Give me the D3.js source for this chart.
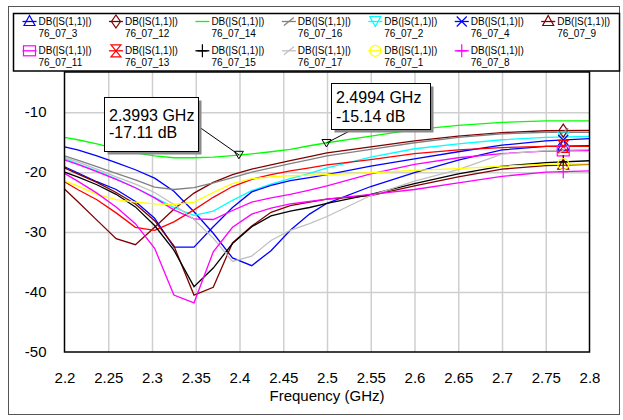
<!DOCTYPE html>
<meta charset="utf-8" />
<style>
  body {
    margin: 0;
    background: #fff;
    font-family: Arial, "Liberation Sans", sans-serif;
  }
  .grid line {
    stroke: #cfcfcf;
    stroke-width: 1.5;
  }
  .grid .domain,
  .axis .domain {
    display: none;
  }
  .axis text {
    font-size: 15px;
    fill: #000;
    font-family: Arial, "Liberation Sans", sans-serif;
  }
</style>
<body>
  <div class="container"></div>

  <script src="https://d3js.org/d3.v7.min.js"></script>
  <script>
    // frequency points (GHz) shared by every trace
    const freq = [2.2, 2.215, 2.237, 2.259, 2.281, 2.303, 2.325, 2.348, 2.37, 2.392, 2.414,
      2.436, 2.458, 2.48, 2.5, 2.55, 2.6, 2.65, 2.7, 2.75, 2.8];

    // dB(|S11|) per trace
    const s76_07_3 = [-15.8, -16.3, -17.3, -18.4, -19.6, -21.0, -23.2, -26.6, -30.2, -34.3, -35.6,
      -33.1, -29.7, -27.0, -25.2, -22.4, -20.1, -18.0, -16.3, -15.7, -15.6];
    const s76_07_12 = [-22.8, -24.9, -28.0, -31.1, -32.1, -29.2, -26.2, -23.5, -21.7, -20.4, -19.5,
      -18.8, -18.1, -17.4, -16.8, -15.8, -14.8, -14.0, -13.4, -13.1, -13.05];
    const s76_07_14 = [-14.2, -14.6, -15.3, -16.1, -16.8, -17.3, -17.6, -17.6, -17.5, -17.25, -16.95,
      -16.6, -16.2, -15.6, -15.1, -14.0, -12.9, -12.2, -11.7, -11.45, -11.45];
    const s76_07_16 = [-17.3, -18.0, -19.1, -20.2, -21.3, -22.5, -22.9, -22.6, -21.8, -20.9, -20.0,
      -19.3, -18.6, -17.9, -17.3, -16.2, -15.1, -14.2, -13.6, -13.35, -13.35];
    const s76_07_2 = [-17.7, -18.6, -19.8, -21.1, -22.6, -24.2, -25.9, -27.2, -26.5, -24.7, -23.1,
      -22.0, -21.1, -20.2, -19.3, -17.5, -16.1, -15.3, -14.6, -14.2, -14.05];
    const s76_07_4 = [-19.1, -20.1, -21.6, -22.9, -24.9, -27.7, -32.5, -32.5, -29.1, -25.9, -23.3,
      -22.2, -21.4, -20.9, -20.4, -19.0, -17.8, -16.6, -15.5, -14.8, -14.4];
    const s76_07_9 = [-19.3, -20.3, -21.7, -23.4, -25.3, -28.1, -32.3, -40.5, -39.2, -31.8, -29.0,
      -26.7, -25.6, -25.0, -24.5, -23.9, -22.3, -20.8, -19.5, -18.9, -18.7];
    const s76_07_11 = [-17.95, -18.7, -19.9, -21.2, -22.6, -24.3, -26.3, -27.8, -27.9, -26.4, -25.0,
      -24.3, -23.7, -23.0, -22.3, -20.3, -18.7, -17.6, -16.9, -16.5, -16.4];
    const s76_07_13 = [-21.6, -22.9, -24.6, -26.8, -29.2, -29.7, -28.3, -26.3, -24.2, -22.4, -21.2,
      -20.4, -19.8, -19.3, -18.8, -17.9, -16.9, -16.3, -15.9, -15.7, -15.7];
    const s76_07_15 = [-20.0, -20.8, -22.1, -23.7, -25.8, -28.9, -33.0, -39.1, -36.0, -31.9, -29.1,
      -27.3, -26.5, -25.9, -25.2, -23.7, -21.9, -20.3, -19.0, -18.4, -18.1];
    const s76_07_17 = [-17.5, -18.3, -19.5, -20.8, -22.0, -23.4, -25.4, -27.9, -31.0, -34.9, -34.0,
      -31.4, -29.7, -28.6, -27.4, -23.9, -21.5, -19.6, -17.0, -16.4, -16.2];
    const s76_07_1 = [-21.45, -22.3, -23.7, -24.6, -25.0, -25.3, -25.4, -25.0, -23.4, -21.9, -21.1,
      -20.8, -20.6, -20.5, -20.4, -20.1, -19.7, -19.4, -19.0, -18.7, -18.6];
    const s76_07_8 = [-20.2, -21.5, -23.5, -25.8, -28.6, -32.7, -40.5, -41.8, -33.3, -29.2, -27.0,
      -26.0, -25.3, -24.9, -24.5, -23.7, -22.9, -21.8, -20.7, -20.0, -19.8];

    // legend order, names, colours and symbols
    const names = ["76_07_3", "76_07_12", "76_07_14", "76_07_16", "76_07_2", "76_07_4", "76_07_9",
      "76_07_11", "76_07_13", "76_07_15", "76_07_17", "76_07_1", "76_07_8"];
    const values = [s76_07_3, s76_07_12, s76_07_14, s76_07_16, s76_07_2, s76_07_4, s76_07_9,
      s76_07_11, s76_07_13, s76_07_15, s76_07_17, s76_07_1, s76_07_8];
    const colors = ["#0000ff", "#800000", "#00ff00", "#808080", "#00ffff", "#0000ff", "#800000",
      "#ff00ff", "#ff0000", "#000000", "#c0c0c0", "#ffff00", "#ff00ff"];
    const symbols = ["triUp", "diamond", "none", "slash", "triDown", "x", "triUp",
      "square", "hourglass", "plus", "slash", "circle", "plus"];
    const quantity = "DB(|S(1,1)|)";

    // axis ticks
    const xTicks = [2.2, 2.25, 2.3, 2.35, 2.4, 2.45, 2.5, 2.55, 2.6, 2.65, 2.7, 2.75, 2.8];
    const xTickLabels = ["2.2", "2.25", "2.3", "2.35", "2.4", "2.45", "2.5", "2.55", "2.6", "2.65", "2.7", "2.75", "2.8"];
    const yTicks = [-10, -20, -30, -40, -50];
    const yTickLabels = ["-10", "-20", "-30", "-40", "-50"];

    // marker readouts on the 76_07_14 trace
    const markerFreq = [2.3993, 2.4994];
    const markerDb = [-17.11, -15.14];
    const symbolFreq = 2.77;

    const W = 623, H = 420;
    const plot = { left: 64.5, right: 589.5, top: 72, bottom: 352 };

    const svg = d3
      .select(".container")
      .append("svg")
      .attr("width", W)
      .attr("height", H);

    const x = d3.scaleLinear().domain([2.2, 2.8]).range([plot.left, plot.right]);
    const y = d3.scaleLinear().domain([-50, -3.3]).range([plot.bottom, plot.top]);

    // outer frame
    svg.append("rect")
      .attr("x", 8.5).attr("y", 6.5)
      .attr("width", 611).attr("height", 408)
      .attr("fill", "#fff").attr("stroke", "#555").attr("stroke-width", 1);

    // plot background
    svg.append("rect")
      .attr("x", plot.left).attr("y", plot.top)
      .attr("width", plot.right - plot.left).attr("height", plot.bottom - plot.top)
      .attr("fill", "#fff");

    // grid
    svg.append("g")
      .attr("class", "grid")
      .attr("transform", "translate(0," + plot.bottom + ")")
      .call(d3.axisBottom(x).tickValues(xTicks.slice(1, -1)).tickSize(-(plot.bottom - plot.top)).tickFormat(""));
    svg.append("g")
      .attr("class", "grid")
      .attr("transform", "translate(" + plot.left + ",0)")
      .call(d3.axisLeft(y).tickValues(yTicks.slice(0, -1)).tickSize(-(plot.right - plot.left)).tickFormat(""));

    // axes labels
    svg.append("g")
      .attr("class", "axis")
      .attr("transform", "translate(0," + plot.bottom + ")")
      .call(d3.axisBottom(x).tickValues(xTicks).tickSize(0).tickPadding(20.5)
        .tickFormat((d, i) => xTickLabels[i]));
    svg.append("g")
      .attr("class", "axis")
      .attr("transform", "translate(" + plot.left + ",0)")
      .call(d3.axisLeft(y).tickValues(yTicks).tickSize(0).tickPadding(18)
        .tickFormat((d, i) => yTickLabels[i]));

    svg.append("text")
      .attr("x", (plot.left + plot.right) / 2)
      .attr("y", 401)
      .attr("text-anchor", "middle")
      .attr("font-size", "15px")
      .text("Frequency (GHz)");

    // traces
    const line = d3.line()
      .x((d, i) => x(freq[i]))
      .y((d) => y(d));

    const traces = svg.append("g").attr("fill", "none").attr("stroke-width", 1.3);
    values.forEach(function (vals, k) {
      traces.append("path")
        .attr("d", line(vals))
        .attr("stroke", colors[k]);
    });

    function drawSymbol(g, type, color, cx, cy) {
      const s = g.append("g")
        .attr("transform", "translate(" + cx + "," + cy + ")")
        .attr("fill", "none")
        .attr("stroke", color)
        .attr("stroke-width", 1.2);
      if (type === "triUp") s.append("path").attr("d", "M0,-6L5.5,4L-5.5,4Z");
      if (type === "triDown") s.append("path").attr("d", "M0,5L5.5,-5L-5.5,-5Z");
      if (type === "diamond") s.append("path").attr("d", "M0,-6.5L4.5,0L0,6.5L-4.5,0Z");
      if (type === "x") s.append("path").attr("d", "M-5,-5L5,5M-5,5L5,-5");
      if (type === "hourglass") s.append("path").attr("d", "M-5,-6H5L-5,6H5Z");
      if (type === "square") s.append("rect").attr("x", -6).attr("y", -5).attr("width", 12).attr("height", 10);
      if (type === "plus") s.append("path").attr("d", "M0,-6.5V6.5M-5,0H5");
      if (type === "circle") s.append("circle").attr("r", 5.5);
      if (type === "slash") s.append("path").attr("d", "M-5,4L5,-4");
    }

    function valueAt(vals, f) {
      let i = d3.bisectRight(freq, f) - 1;
      i = Math.max(0, Math.min(i, freq.length - 2));
      const t = (f - freq[i]) / (freq[i + 1] - freq[i]);
      return vals[i] + t * (vals[i + 1] - vals[i]);
    }

    // trace symbols at one frequency
    const marks = svg.append("g");
    values.forEach(function (vals, k) {
      if (symbols[k] === "none") return;
      drawSymbol(marks, symbols[k], colors[k], x(symbolFreq), y(valueAt(vals, symbolFreq)));
    });

    // plot border
    svg.append("rect")
      .attr("x", plot.left).attr("y", plot.top)
      .attr("width", plot.right - plot.left).attr("height", plot.bottom - plot.top)
      .attr("fill", "none").attr("stroke", "#000").attr("stroke-width", 1.5);

    // legend box
    svg.append("rect")
      .attr("x", 13.5).attr("y", 13.5)
      .attr("width", 606).attr("height", 57.5)
      .attr("fill", "#fff").attr("stroke", "#000").attr("stroke-width", 1.5);

    const legend = svg.append("g").attr("font-size", "10px");
    names.forEach(function (name, i) {
      const col = i % 7, row = Math.floor(i / 7);
      const tx = 38.5 + 86.45 * col;
      const ly = 21.5 + 29.3 * row;
      legend.append("line")
        .attr("x1", tx - 16).attr("x2", tx - 2)
        .attr("y1", ly).attr("y2", ly)
        .attr("stroke", colors[i]).attr("stroke-width", 1.3);
      if (symbols[i] !== "none") drawSymbol(legend, symbols[i], colors[i], tx - 9, ly);
      legend.append("text").attr("x", tx).attr("y", 25 + 29.3 * row).text(quantity);
      legend.append("text").attr("x", tx).attr("y", 36.5 + 29.3 * row).text(name);
    });

    // marker readouts
    const boxes = [
      { dx: -134.5, dy: -57.5, w: 94, h: 54, t1: 23.2, t2: 40.8, lx: 94, ly: 29 },
      { dx: 5, dy: -59.6, w: 99, h: 46, t1: 19.2, t2: 38.2, lx: 21, ly: 46 }
    ];
    const ann = svg.append("g");
    markerFreq.forEach(function (f, i) {
      const mx = x(f), my = y(markerDb[i]);
      const b = boxes[i];
      const bx = Math.round(mx + b.dx) + 0.5, by = Math.round(my + b.dy) + 0.5;
      ann.append("line")
        .attr("x1", bx + b.lx).attr("y1", by + b.ly)
        .attr("x2", mx).attr("y2", my)
        .attr("stroke", "#000").attr("stroke-width", 1);
      ann.append("path")
        .attr("transform", "translate(" + mx + "," + my + ")")
        .attr("d", "M0,4L4.5,-3.5L-4.5,-3.5Z")
        .attr("fill", "none").attr("stroke", "#000").attr("stroke-width", 1);
      ann.append("rect")
        .attr("x", bx + 3).attr("y", by + 3)
        .attr("width", b.w).attr("height", b.h)
        .attr("fill", "#8a8a8a");
      ann.append("rect")
        .attr("x", bx).attr("y", by)
        .attr("width", b.w).attr("height", b.h)
        .attr("fill", "#fff").attr("stroke", "#000").attr("stroke-width", 1);
      ann.append("text")
        .attr("x", bx + 4.5).attr("y", by + b.t1)
        .attr("font-size", "16px")
        .text(f.toFixed(4) + " GHz");
      ann.append("text")
        .attr("x", bx + 4.5).attr("y", by + b.t2)
        .attr("font-size", "16px")
        .text(markerDb[i].toFixed(2) + " dB");
    });
  </script>
</body>
